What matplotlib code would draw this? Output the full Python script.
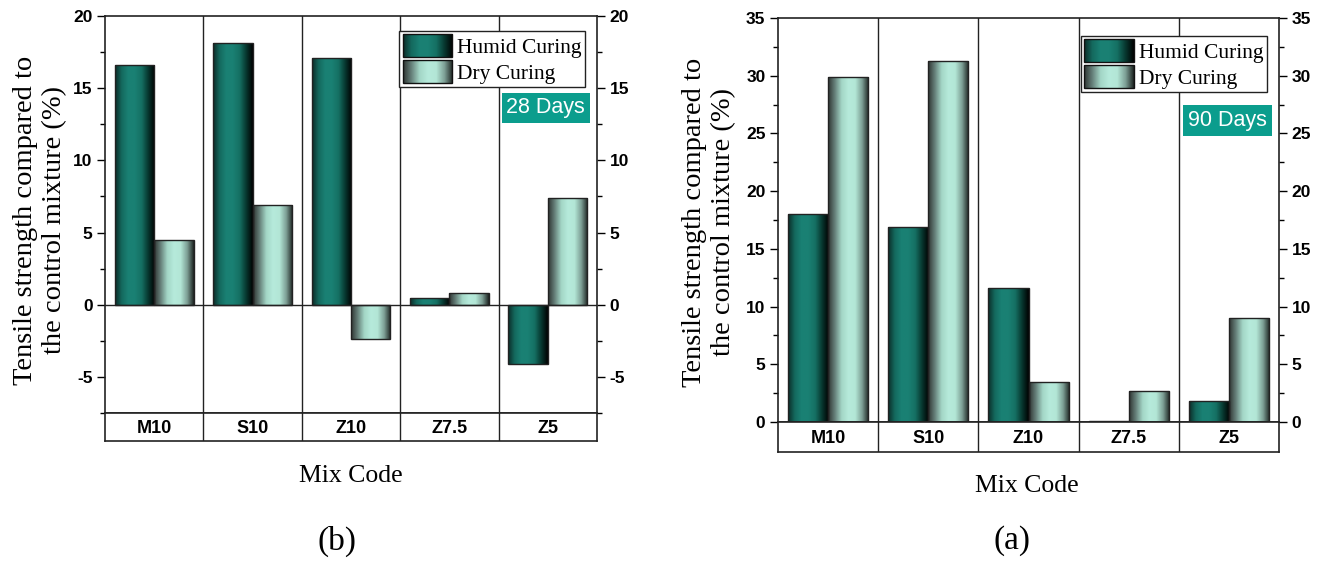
import numpy as np
import matplotlib
matplotlib.use("Agg")
import matplotlib.pyplot as plt
from matplotlib.colors import LinearSegmentedColormap
from matplotlib.legend_handler import HandlerBase
from matplotlib.image import BboxImage
from matplotlib.transforms import Bbox, TransformedBbox
from matplotlib.patches import Rectangle, Patch
from matplotlib.ticker import MultipleLocator

plt.rcParams["axes.unicode_minus"] = False

# data
categories = ["M10", "S10", "Z10", "Z7.5", "Z5"]
humid_28 = [16.6, 18.1, 17.1, 0.5, -4.1]
dry_28 = [4.5, 6.9, -2.4, 0.8, 7.4]
humid_90 = [18.0, 16.9, 11.6, 0.1, 1.8]
dry_90 = [29.9, 31.3, 3.5, 2.7, 9.0]

SERIF = "Liberation Serif"
SANS = "Liberation Sans"

humid_cmap = LinearSegmentedColormap.from_list(
    "humid", ["#0b2b27", "#14695e", "#1a8174", "#1a8073", "#157063", "#07372f", "#000000"])
dry_cmap = LinearSegmentedColormap.from_list(
    "dry", ["#2e3331", "#66807a", "#a3d6c6", "#b6eadb", "#b3e6d6", "#7d9f95", "#1c2220"])
grad = np.linspace(0, 1, 256).reshape(1, -1)


class GradHandler(HandlerBase):
    def __init__(self, cmap):
        super().__init__()
        self.cmap = cmap

    def create_artists(self, legend, orig_handle, xdescent, ydescent,
                       width, height, fontsize, trans):
        bb = TransformedBbox(Bbox.from_bounds(-xdescent, -ydescent, width, height), trans)
        img = BboxImage(bb, cmap=self.cmap, interpolation="bilinear")
        img.set_data(grad)
        rect = Rectangle((-xdescent, -ydescent), width, height, facecolor="none",
                         edgecolor="#111111", lw=1.0, transform=trans)
        return [img, rect]


def grad_bars(ax, xs, vals, cmap):
    bars = ax.bar(xs, vals, width=0.4, facecolor="none", edgecolor="#222222",
                  linewidth=1.0, zorder=3)
    for p in bars.patches:
        x0, y0 = p.get_x(), p.get_y()
        w, h = p.get_width(), p.get_height()
        im = ax.imshow(grad, cmap=cmap, aspect="auto", interpolation="bilinear",
                       extent=[x0, x0 + w, min(y0, y0 + h), max(y0, y0 + h)], zorder=2)
        im.set_clip_path(p)
    return bars


def panel(fig, rect, band_h, humid, dry, ylim, days, days_y, leg_top):
    ax = fig.add_axes(rect)
    x = np.arange(len(categories))
    grad_bars(ax, x - 0.2, humid, humid_cmap)
    grad_bars(ax, x + 0.2, dry, dry_cmap)
    ax.set_xlim(-0.5, len(categories) - 0.5)
    ax.set_ylim(*ylim)
    if ylim[0] < 0:
        ax.axhline(0, color="#222222", lw=1.0, zorder=4)
    for b in np.arange(0.5, len(categories) - 0.5, 1):
        ax.axvline(b, color="#222222", lw=1.0, zorder=1)
    ax.set_xticks([])
    ax.yaxis.set_major_locator(MultipleLocator(5))
    ax.yaxis.set_minor_locator(MultipleLocator(2.5))
    ax.tick_params(axis="y", which="both", direction="out", left=True, right=True,
                   labelleft=True, labelright=True, width=1.0, labelsize=12.5, pad=3)
    ax.tick_params(axis="y", which="major", length=6)
    ax.tick_params(axis="y", which="minor", length=3.5)
    for t in ax.get_yticklabels():
        t.set_fontweight("bold")
        t.set_family(SANS)
    for s in ax.spines.values():
        s.set_linewidth(1.2)
        s.set_color("#222222")

    h1, h2 = Patch(label="Humid Curing"), Patch(label="Dry Curing")
    leg = ax.legend(handles=[h1, h2], handler_map={h1: GradHandler(humid_cmap), h2: GradHandler(dry_cmap)},
                    loc="upper right", bbox_to_anchor=(0.976, leg_top),
                    frameon=True, fancybox=False, framealpha=1, edgecolor="#222222",
                    prop={"family": SERIF, "size": 15.5}, handlelength=2.3, handleheight=1.25,
                    handletextpad=0.25, labelspacing=0.1, borderpad=0.15, borderaxespad=0)
    leg.get_frame().set_linewidth(1.0)
    leg.set_zorder(6)

    ax.text(0.976, days_y, days, transform=ax.transAxes, ha="right", va="top",
            color="white", family=SANS, fontsize=15.5, zorder=7,
            bbox=dict(boxstyle="square,pad=0.22", fc="#0b9d8d", ec="none"))

    l, b, w, h = rect
    bax = fig.add_axes([l, b - band_h, w, band_h])
    bax.set_xlim(-0.5, len(categories) - 0.5)
    bax.set_ylim(0, 1)
    bax.set_xticks([])
    bax.set_yticks([])
    for b2 in np.arange(0.5, len(categories) - 0.5, 1):
        bax.axvline(b2, color="#222222", lw=1.0)
    for i, c in enumerate(categories):
        bax.text(i, 0.45, c, ha="center", va="center", family=SANS,
                 fontweight="bold", fontsize=13)
    for s in bax.spines.values():
        s.set_linewidth(1.2)
        s.set_color("#222222")
    return ax


W, H = 1320, 561
fig = plt.figure(figsize=(W / 100, H / 100), dpi=100)


def fx(px):
    return px / W


def fy(py):
    return 1 - py / H


# left panel (28 days), pixel box 105..597 x 16..413
panel(fig, [fx(105), fy(413), fx(597 - 105), (413 - 16) / H], 28 / H,
      humid_28, dry_28, (-7.5, 20), "28 Days", 0.795, 0.962)
# right panel (90 days), pixel box 778..1279 x 18..422
panel(fig, [fx(778), fy(422), fx(1279 - 778), (422 - 18) / H], 30 / H,
      humid_90, dry_90, (0, 35), "90 Days", 0.772, 0.955)

ylab = "Tensile strength compared to\nthe control mixture (%)"
fig.text(fx(40), fy(220), ylab, rotation=90, ha="center", va="center",
         family=SERIF, fontsize=20.5, linespacing=1.2)
fig.text(fx(709), fy(222), ylab, rotation=90, ha="center", va="center",
         family=SERIF, fontsize=20.5, linespacing=1.2)

fig.text(fx(351), fy(476), "Mix Code", ha="center", va="center", family=SERIF, fontsize=18.5)
fig.text(fx(1027), fy(486), "Mix Code", ha="center", va="center", family=SERIF, fontsize=18.5)
fig.text(fx(337), fy(541), "(b)", ha="center", va="center", family=SERIF, fontsize=24)
fig.text(fx(1012), fy(541), "(a)", ha="center", va="center", family=SERIF, fontsize=24)

fig.savefig("out.png", dpi=100)
